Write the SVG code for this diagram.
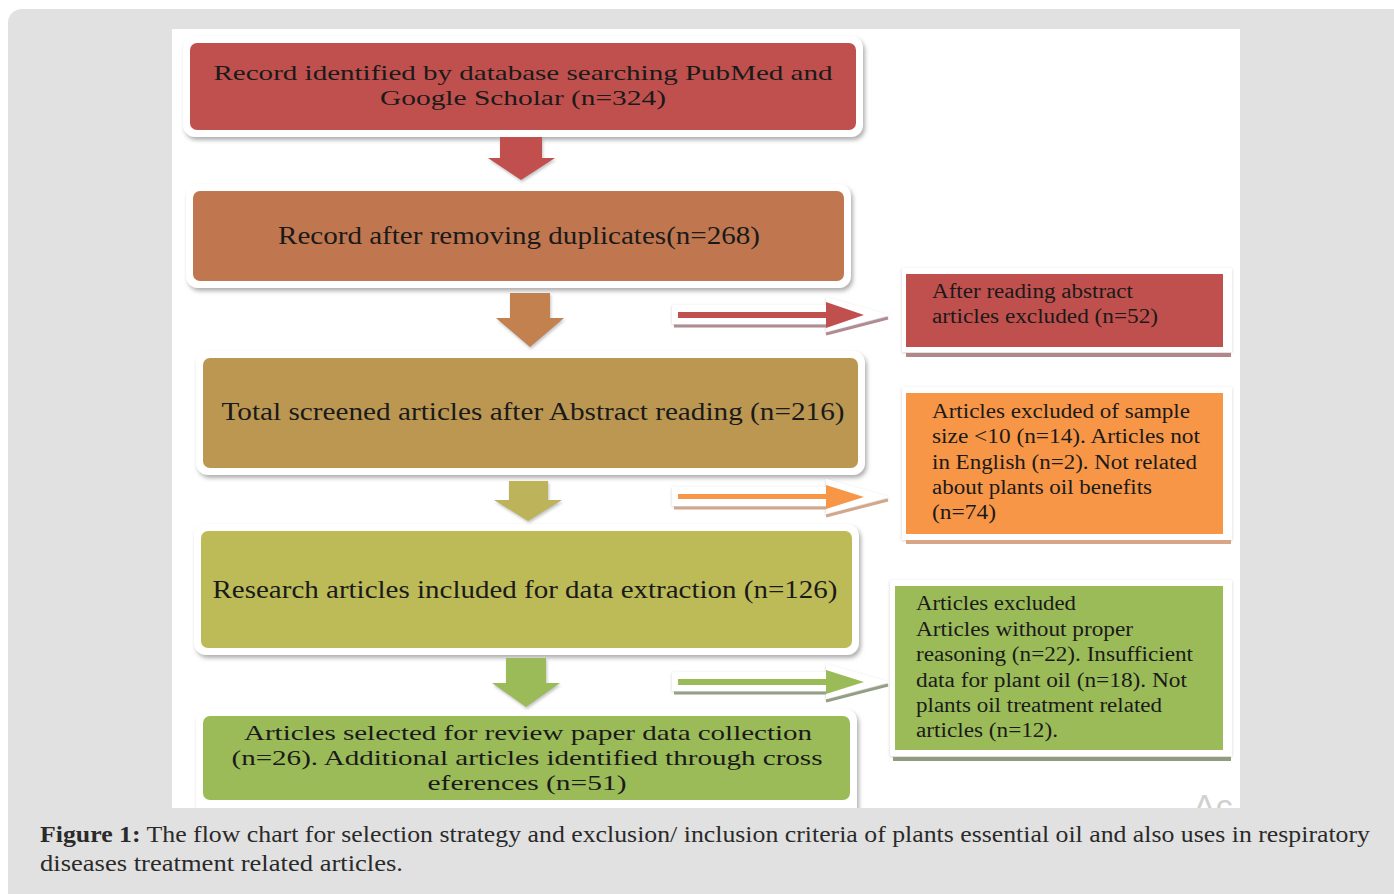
<svg xmlns="http://www.w3.org/2000/svg" width="1394" height="894" viewBox="0 0 1394 894">
<defs>
<filter id="sh" x="-5%" y="-10%" width="110%" height="130%"><feDropShadow dx="2" dy="3" stdDeviation="2" flood-color="#8c8c8c" flood-opacity="0.7"/></filter>
<filter id="sh2" x="-5%" y="-10%" width="110%" height="130%"><feDropShadow dx="0" dy="1" stdDeviation="1.5" flood-color="#b0b0b0" flood-opacity="0.6"/></filter>
<filter id="ash" x="-20%" y="-20%" width="140%" height="150%"><feDropShadow dx="1" dy="2" stdDeviation="1.5" flood-color="#999" flood-opacity="0.6"/></filter>
<clipPath id="panel"><rect x="172" y="29" width="1068" height="779"/></clipPath>
</defs>
<style>
.mt{font-family:"Liberation Serif","Times New Roman",serif;font-size:26px;fill:#1a1a1a}
.mt2{font-family:"Liberation Serif","Times New Roman",serif;font-size:22px;fill:#1a1a1a}
.st{font-family:"Liberation Serif","Times New Roman",serif;font-size:20px;fill:#1a1a1a}
.cap{font-family:"Liberation Serif","Times New Roman",serif;font-size:23px;fill:#2a2a2a}
.frame{fill:#fff}
</style>
<rect x="8" y="9" width="1400" height="900" rx="14" fill="#e1e1e1"/>
<rect x="172" y="29" width="1068" height="779" fill="#fff"/>
<g clip-path="url(#panel)">
<g id="n1">
<rect class="frame" x="183" y="36" width="680" height="101" rx="12" filter="url(#sh)"/>
<rect x="190" y="43" width="666" height="87" rx="7" fill="#c0504d"/>
<text class="mt2" x="523" y="80" text-anchor="middle" textLength="619" lengthAdjust="spacingAndGlyphs">Record identified by database searching PubMed and</text>
<text class="mt2" x="523" y="105" text-anchor="middle" textLength="286" lengthAdjust="spacingAndGlyphs">Google Scholar (n=324)</text>
</g>
<g id="n2">
<rect class="frame" x="186" y="184" width="665" height="104" rx="12" filter="url(#sh)"/>
<rect x="193" y="191" width="651" height="90" rx="7" fill="#c0764f"/>
<text class="mt" x="519" y="244" text-anchor="middle" textLength="482" lengthAdjust="spacingAndGlyphs">Record after removing duplicates(n=268)</text>
</g>
<g id="n3">
<rect class="frame" x="196" y="351" width="669" height="124" rx="12" filter="url(#sh)"/>
<rect x="203" y="358" width="655" height="110" rx="7" fill="#bb9752"/>
<text class="mt" x="533" y="420" text-anchor="middle" textLength="623" lengthAdjust="spacingAndGlyphs">Total screened articles after Abstract reading (n=216)</text>
</g>
<g id="n4">
<rect class="frame" x="194" y="524" width="665" height="131" rx="12" filter="url(#sh)"/>
<rect x="201" y="531" width="651" height="117" rx="7" fill="#bcbb58"/>
<text class="mt" x="525" y="598" text-anchor="middle" textLength="625" lengthAdjust="spacingAndGlyphs">Research articles included for data extraction (n=126)</text>
</g>
<g id="n5">
<rect class="frame" x="196" y="709" width="661" height="110" rx="12" filter="url(#sh)"/>
<rect x="203" y="716" width="647" height="84" rx="7" fill="#9bbb59"/>
<text class="mt2" x="528" y="740" text-anchor="middle" textLength="568" lengthAdjust="spacingAndGlyphs">Articles selected for review paper data collection</text>
<text class="mt2" x="527" y="765" text-anchor="middle" textLength="591" lengthAdjust="spacingAndGlyphs">(n=26). Additional articles identified through cross</text>
<text class="mt2" x="527" y="790" text-anchor="middle" textLength="199" lengthAdjust="spacingAndGlyphs">eferences (n=51)</text>
</g>
<g id="r1">
<rect class="frame" x="902" y="268" width="330" height="84" filter="url(#sh2)"/>
<rect x="906" y="274" width="317" height="73" fill="#c0504d"/>
<rect x="906" y="353" width="325" height="4" fill="#b3868b"/>
<text class="st" x="932" y="298" textLength="201" lengthAdjust="spacingAndGlyphs">After reading abstract</text>
<text class="st" x="932" y="323" textLength="226" lengthAdjust="spacingAndGlyphs">articles excluded (n=52)</text>
</g>
<g id="r2">
<rect class="frame" x="902" y="387" width="330" height="153" filter="url(#sh2)"/>
<rect x="906" y="393" width="317" height="141" fill="#f79646"/>
<rect x="906" y="540" width="325" height="4" fill="#d8a585"/>
<text class="st" x="932" y="418" textLength="258" lengthAdjust="spacingAndGlyphs">Articles excluded of sample</text>
<text class="st" x="932" y="443" textLength="268" lengthAdjust="spacingAndGlyphs">size &lt;10 (n=14). Articles not</text>
<text class="st" x="932" y="469" textLength="265" lengthAdjust="spacingAndGlyphs">in English (n=2). Not related</text>
<text class="st" x="932" y="494" textLength="220" lengthAdjust="spacingAndGlyphs">about plants oil benefits</text>
<text class="st" x="932" y="519" textLength="64" lengthAdjust="spacingAndGlyphs">(n=74)</text>
</g>
<g id="r3">
<rect class="frame" x="890" y="580" width="342" height="176" filter="url(#sh2)"/>
<rect x="895" y="586" width="328" height="164" fill="#9bbb59"/>
<rect x="893" y="757" width="338" height="4" fill="#8f9c80"/>
<text class="st" x="916" y="610" textLength="160" lengthAdjust="spacingAndGlyphs">Articles excluded</text>
<text class="st" x="916" y="636" textLength="217" lengthAdjust="spacingAndGlyphs">Articles without proper</text>
<text class="st" x="916" y="661" textLength="277" lengthAdjust="spacingAndGlyphs">reasoning (n=22). Insufficient</text>
<text class="st" x="916" y="687" textLength="271" lengthAdjust="spacingAndGlyphs">data for plant oil (n=18). Not</text>
<text class="st" x="916" y="712" textLength="246" lengthAdjust="spacingAndGlyphs">plants oil treatment  related</text>
<text class="st" x="916" y="737" textLength="142" lengthAdjust="spacingAndGlyphs">articles (n=12).</text>
</g>
<g id="connectors">
<polygon points="500,137 542,137 542,158 555,158 521,180 488,158 500,158" fill="#c0504d" filter="url(#ash)"/>
<polygon points="510,293 550,293 550,318 564,318 530,347 496,318 510,318" fill="#c3814f" filter="url(#ash)"/>
<polygon points="509,481 548,481 548,500 562,500 528,521 494,500 509,500" fill="#bcb35a" filter="url(#ash)"/>
<polygon points="506,658 546,658 546,683 560,683 526,707 492,683 506,683" fill="#9bbb59" filter="url(#ash)"/>
<g>
<polyline points="674,326 826,326" stroke="#b0868c" stroke-width="3" fill="none"/>
<polyline points="826,334 888,318" stroke="#b0868c" stroke-width="3" fill="none"/>
<polygon points="672,305 826,305 826,297 890,315 826,332 826,324 672,324" fill="#fff" filter="url(#sh2)"/>
<rect x="678" y="312" width="150" height="6" fill="#c0504d"/>
<polygon points="826,302 864,315 826,328" fill="#c0504d"/>
</g>
<g>
<polyline points="674,508 826,508" stroke="#d8a585" stroke-width="3" fill="none"/>
<polyline points="826,516 888,500" stroke="#d8a585" stroke-width="3" fill="none"/>
<polygon points="672,487 826,487 826,479 890,497 826,514 826,506 672,506" fill="#fff" filter="url(#sh2)"/>
<rect x="678" y="494" width="150" height="5" fill="#f79646"/>
<polygon points="826,485 864,497 826,509" fill="#f79646"/>
</g>
<g>
<polyline points="674,693 826,693" stroke="#8f9c80" stroke-width="3" fill="none"/>
<polyline points="826,701 888,685" stroke="#8f9c80" stroke-width="3" fill="none"/>
<polygon points="672,672 826,672 826,664 890,682 826,699 826,691 672,691" fill="#fff" filter="url(#sh2)"/>
<rect x="678" y="679" width="150" height="6" fill="#9bbb59"/>
<polygon points="826,670 864,682 826,694" fill="#9bbb59"/>
</g>
</g>
<text x="1193" y="818" font-family="Liberation Sans, Arial, sans-serif" font-size="34" fill="#d0d0d0">Ac</text>
</g>
<text class="cap" x="40" y="842" textLength="1330" lengthAdjust="spacingAndGlyphs"><tspan font-weight="bold">Figure 1:</tspan> The flow chart for selection strategy and exclusion/ inclusion criteria of plants essential oil and also uses in respiratory</text>
<text class="cap" x="40" y="871" textLength="363" lengthAdjust="spacingAndGlyphs">diseases treatment related articles.</text>
</svg>
